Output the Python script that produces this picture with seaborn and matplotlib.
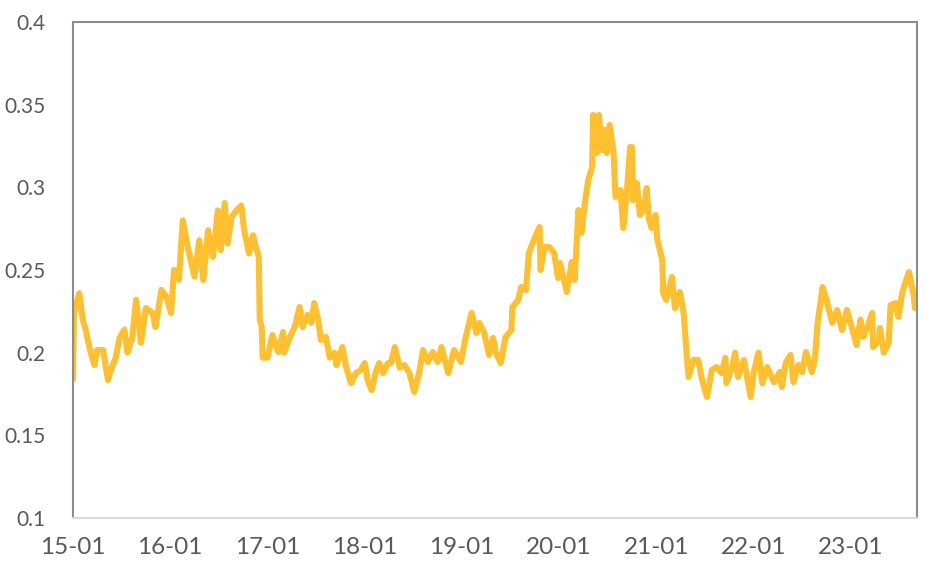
import pandas as pd
import matplotlib
matplotlib.use("Agg")
import matplotlib.pyplot as plt
import matplotlib.dates as mdates
from matplotlib.ticker import FuncFormatter
import seaborn as sns

# Readings: time as decimal year, value of the series
t_years = [
    2015.00, 2015.01, 2015.065, 2015.10, 2015.13, 2015.17, 2015.22, 2015.25, 2015.31, 2015.36,
    2015.39, 2015.44, 2015.48, 2015.53, 2015.56, 2015.61, 2015.65, 2015.70, 2015.75, 2015.82,
    2015.85, 2015.91, 2015.96, 2016.01, 2016.04, 2016.09, 2016.13, 2016.18, 2016.25, 2016.30,
    2016.34, 2016.39, 2016.44, 2016.49, 2016.52, 2016.56, 2016.59, 2016.63, 2016.68, 2016.73,
    2016.76, 2016.81, 2016.85, 2016.88, 2016.91, 2016.92, 2016.94, 2016.95, 2017.00, 2017.05,
    2017.11, 2017.16, 2017.17, 2017.23, 2017.28, 2017.33, 2017.36, 2017.41, 2017.45, 2017.48,
    2017.52, 2017.55, 2017.60, 2017.64, 2017.69, 2017.71, 2017.77, 2017.81, 2017.86, 2017.91,
    2017.96, 2018.00, 2018.03, 2018.07, 2018.12, 2018.15, 2018.19, 2018.24, 2018.27, 2018.31,
    2018.36, 2018.41, 2018.46, 2018.51, 2018.56, 2018.60, 2018.65, 2018.70, 2018.75, 2018.79,
    2018.86, 2018.92, 2018.99, 2019.04, 2019.10, 2019.15, 2019.18, 2019.23, 2019.28, 2019.32,
    2019.35, 2019.40, 2019.45, 2019.51, 2019.52, 2019.58, 2019.61, 2019.66, 2019.69, 2019.75,
    2019.80, 2019.81, 2019.85, 2019.90, 2019.95, 2019.99, 2020.01, 2020.08, 2020.13, 2020.16,
    2020.20, 2020.23, 2020.27, 2020.30, 2020.34, 2020.35, 2020.39, 2020.41, 2020.44, 2020.47,
    2020.49, 2020.52, 2020.56, 2020.58, 2020.63, 2020.66, 2020.70, 2020.73, 2020.75, 2020.76,
    2020.80, 2020.83, 2020.87, 2020.90, 2020.92, 2020.95, 2020.99, 2021.01, 2021.06, 2021.07,
    2021.10, 2021.16, 2021.19, 2021.24, 2021.28, 2021.31, 2021.33, 2021.38, 2021.43, 2021.47,
    2021.52, 2021.57, 2021.62, 2021.67, 2021.71, 2021.72, 2021.78, 2021.81, 2021.84, 2021.90,
    2021.97, 2022.00, 2022.05, 2022.09, 2022.14, 2022.21, 2022.27, 2022.29, 2022.33, 2022.38,
    2022.41, 2022.46, 2022.50, 2022.54, 2022.60, 2022.63, 2022.66, 2022.69, 2022.71, 2022.75,
    2022.81, 2022.86, 2022.91, 2022.96, 2023.01, 2023.06, 2023.10, 2023.13, 2023.17, 2023.22,
    2023.23, 2023.29, 2023.30, 2023.34, 2023.39, 2023.41, 2023.46, 2023.49, 2023.53, 2023.56,
    2023.60, 2023.65, 2023.66,
]
values = [
    0.184, 0.224, 0.236, 0.220, 0.214, 0.203, 0.1925, 0.2016, 0.2016, 0.1835,
    0.1895, 0.197, 0.209, 0.214, 0.200, 0.209, 0.232, 0.206, 0.227, 0.224,
    0.2155, 0.238, 0.234, 0.224, 0.250, 0.244, 0.280, 0.264, 0.246, 0.268,
    0.244, 0.274, 0.258, 0.286, 0.262, 0.2905, 0.266, 0.282, 0.286, 0.289,
    0.274, 0.260, 0.271, 0.264, 0.258, 0.220, 0.2155, 0.197, 0.197, 0.2107,
    0.2004, 0.2125, 0.200, 0.2095, 0.2155, 0.2276, 0.2155, 0.2228, 0.218, 0.230,
    0.220, 0.2077, 0.2095, 0.197, 0.200, 0.1925, 0.2034, 0.191, 0.1816, 0.1877,
    0.1895, 0.1937, 0.1835, 0.1774, 0.1895, 0.1937, 0.1877, 0.1937, 0.1937, 0.2034,
    0.191, 0.1925, 0.1877, 0.1762, 0.1877, 0.2016, 0.1944, 0.2004, 0.1944, 0.2034,
    0.1877, 0.2016, 0.1944, 0.2095, 0.224, 0.2119, 0.218, 0.2119, 0.1986, 0.2089,
    0.200, 0.1937, 0.2095, 0.2137, 0.2276, 0.2319, 0.2397, 0.2379, 0.2603, 0.2694,
    0.276, 0.250, 0.2639, 0.2639, 0.2603, 0.2452, 0.2542, 0.2367, 0.2548, 0.244,
    0.2863, 0.2724, 0.2923, 0.3044, 0.3123, 0.3438, 0.3208, 0.3438, 0.3226, 0.3347,
    0.3208, 0.3377, 0.3208, 0.2942, 0.2984, 0.2754, 0.3002, 0.3244, 0.3244, 0.2923,
    0.3026, 0.2833, 0.2863, 0.2996, 0.2815, 0.2754, 0.2833, 0.2682, 0.256, 0.2361,
    0.2319, 0.2458, 0.227, 0.2367, 0.224, 0.200, 0.1853, 0.1956, 0.1956, 0.1835,
    0.1732, 0.1895, 0.1913, 0.1877, 0.1968, 0.1816, 0.1913, 0.200, 0.1853, 0.1956,
    0.1732, 0.1877, 0.200, 0.1816, 0.1913, 0.1822, 0.1883, 0.1792, 0.1937, 0.1986,
    0.1822, 0.1925, 0.1883, 0.2004, 0.1883, 0.1956, 0.2186, 0.2307, 0.2397, 0.2319,
    0.218, 0.2258, 0.2137, 0.2258, 0.2155, 0.2046, 0.220, 0.2095, 0.2155, 0.224,
    0.2034, 0.2077, 0.2149, 0.200, 0.2058, 0.2288, 0.230, 0.2216, 0.2361, 0.2421,
    0.2488, 0.2337, 0.227,
]
y_ticks = [0.1, 0.15, 0.2, 0.25, 0.3, 0.35, 0.4]


def to_date(t):
    year = int(t)
    start = pd.Timestamp(year=year, month=1, day=1)
    days = 366 if pd.Timestamp(year=year, month=12, day=31).dayofyear == 366 else 365
    return start + pd.Timedelta(days=(t - year) * days)


df = pd.DataFrame({"date": [to_date(t) for t in t_years], "value": values})

sns.set_theme(style="white")
plt.rcParams["font.family"] = ["Lato", "DejaVu Sans"]

fig = plt.figure(figsize=(9.26, 5.80), dpi=100)
ax = fig.add_axes([0.0788, 0.1069, 0.9115, 0.8551])

sns.lineplot(data=df, x="date", y="value", color="#FFC02F", linewidth=4.4,
             solid_joinstyle="round", solid_capstyle="round", ax=ax, sort=False)

ax.set_xlim(pd.Timestamp("2015-01-01"), pd.Timestamp("2023-09-07"))
ax.set_ylim(0.1, 0.4)
ax.set_yticks(y_ticks)
ax.yaxis.set_major_formatter(FuncFormatter(lambda v, p: f"{v:g}"))
ax.xaxis.set_major_locator(mdates.YearLocator())
ax.xaxis.set_major_formatter(mdates.DateFormatter("%y-%m"))
ax.set_xlabel("")
ax.set_ylabel("")
ax.grid(False)

ax.tick_params(axis="both", length=0, labelcolor="#595959")
ax.tick_params(axis="y", pad=20, labelsize=15)
ax.tick_params(axis="x", pad=14, labelsize=17.5)

for side in ["left", "top", "right"]:
    ax.spines[side].set_color("#8c8c8c")
    ax.spines[side].set_linewidth(1.5)
ax.spines["bottom"].set_color("#d9d9d9")
ax.spines["bottom"].set_linewidth(1.5)

plt.savefig("out.png", dpi=100)
plt.close()
